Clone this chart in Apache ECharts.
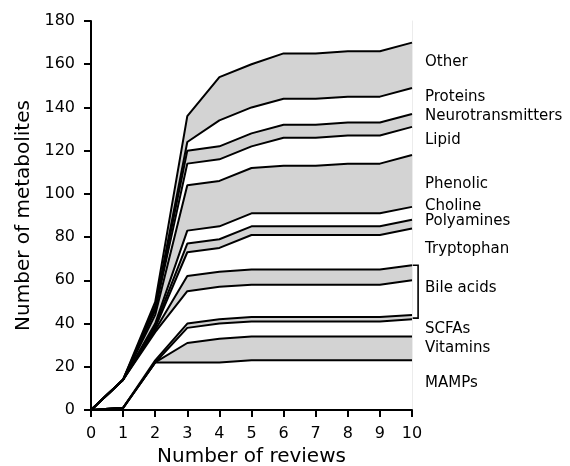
<!DOCTYPE html>
<html>
<head>
<meta charset="utf-8">
<script src="https://cdn.jsdelivr.net/npm/echarts@6/dist/echarts.min.js"></script>
<style>
  html, body { margin: 0; padding: 0; background: #fff; }
  #chart { width: 570px; height: 466px; }
</style>
</head>
<body>
<div id="chart"></div>
<script>
// reviews on the x axis
var reviews = ['0', '1', '2', '3', '4', '5', '6', '7', '8', '9', '10']

// metabolites added per category (stacked bottom -> top)
var mamps       = [0, 1, 22, 22, 22, 23, 23, 23, 23, 23, 23]
var vitamins    = [0, 0, 0, 9, 11, 11, 11, 11, 11, 11, 11]
var scfas       = [0, 0, 0, 7, 7, 7, 7, 7, 7, 7, 8]
var bileA       = [0, 0, 1, 2, 2, 2, 2, 2, 2, 2, 2]
var bileB       = [0, 13, 13, 15, 15, 15, 15, 15, 15, 15, 16]
var bileC       = [0, 0, 1, 7, 7, 7, 7, 7, 7, 7, 7]
var tryptophan  = [0, 0, 1, 11, 11, 16, 16, 16, 16, 16, 17]
var polyamines  = [0, 0, 1, 4, 4, 4, 4, 4, 4, 4, 4]
var choline     = [0, 0, 1, 6, 6, 6, 6, 6, 6, 6, 6]
var phenolic    = [0, 0, 4, 21, 21, 21, 22, 22, 23, 23, 24]
var lipid       = [0, 0, 2, 10, 10, 10, 13, 13, 13, 13, 13]
var neuro       = [0, 0, 1, 6, 6, 6, 6, 6, 6, 6, 6]
var proteins    = [0, 0, 1, 4, 12, 12, 12, 12, 12, 12, 12]
var other       = [0, 0, 2, 12, 20, 20, 21, 21, 21, 21, 21]

var bands = [mamps, vitamins, scfas, bileA, bileB, bileC, tryptophan,
  polyamines, choline, phenolic, lipid, neuro, proteins, other]

// labels on the right, with the y they sit at
var labelNames = ['Other', 'Proteins', 'Neurotransmitters', 'Lipid', 'Phenolic', 'Choline',
  'Polyamines', 'Tryptophan', 'Bile acids', 'SCFAs', 'Vitamins', 'MAMPs']
var labelY = [161, 145, 136, 125, 104.5, 94.5, 87.5, 74.5, 56.5, 37.5, 28.5, 12.5]

// bracket grouping the three bile acid bands
var bileLow = 42.5
var bileHigh = 67

var font = 'DejaVu Sans'

var series = bands.map(function (vals, i) {
  return {
    type: 'line',
    stack: 'all',
    z: 40 - i,
    symbol: 'none',
    data: vals,
    lineStyle: { color: '#000', width: 2 },
    areaStyle: i % 2 === 1 ? { color: '#d3d3d3', opacity: 1 } : null
  }
})

// labels, on a hidden value x axis over the same grid
series.push({
  type: 'custom',
  xAxisIndex: 1,
  z: 50,
  data: labelNames.map(function (n, i) { return [10, labelY[i], i] }),
  renderItem: function (params, api) {
    var p = api.coord([api.value(0), api.value(1)])
    return {
      type: 'text',
      x: p[0] + 13,
      y: p[1],
      style: {
        text: labelNames[api.value(2)],
        fill: '#000',
        font: '15px "DejaVu Sans"',
        verticalAlign: 'middle',
        align: 'left'
      }
    }
  }
})

// the bile acid bracket
series.push({
  type: 'custom',
  xAxisIndex: 1,
  z: 50,
  data: [[10.02, bileHigh, 10.19, bileLow]],
  renderItem: function (params, api) {
    var a = api.coord([api.value(0), api.value(1)])
    var b = api.coord([api.value(2), api.value(3)])
    return {
      type: 'polyline',
      shape: { points: [[a[0], a[1]], [b[0], a[1]], [b[0], b[1]], [a[0], b[1]]] },
      style: { stroke: '#000', lineWidth: 1.6, fill: null }
    }
  }
})

var chart = echarts.init(document.getElementById('chart'))
chart.setOption({
  animation: false,
  grid: { left: 91, right: 158, top: 21, bottom: 56, containLabel: false, outerBoundsMode: 'none' },
  xAxis: [{
    type: 'category',
    data: reviews,
    boundaryGap: false,
    name: 'Number of reviews',
    nameLocation: 'middle',
    nameGap: 37,
    nameTextStyle: { fontFamily: font, fontSize: 20, color: '#000', verticalAlign: 'top' },
    splitLine: { show: false },
    axisLine: { lineStyle: { color: '#000', width: 2 } },
    axisTick: { length: 7, lineStyle: { color: '#000', width: 2 } },
    axisLabel: { fontFamily: font, fontSize: 16, color: '#000', margin: 16, interval: 0 }
  }, {
    type: 'value',
    min: 0,
    max: 10,
    show: false
  }],
  yAxis: [{
    type: 'value',
    min: 0,
    max: 180,
    interval: 20,
    name: 'Number of metabolites',
    nameLocation: 'middle',
    nameGap: 54,
    nameTextStyle: { fontFamily: font, fontSize: 20, color: '#000' },
    splitLine: { show: false },
    axisLine: { show: true, lineStyle: { color: '#000', width: 2 } },
    axisTick: { show: true, length: 7, lineStyle: { color: '#000', width: 2 } },
    axisLabel: { fontFamily: font, fontSize: 16, color: '#000', margin: 16 }
  }, {
    type: 'value',
    position: 'right',
    min: 0,
    max: 180,
    splitLine: { show: false },
    axisLine: { show: true, lineStyle: { color: '#ececec', width: 1 } },
    axisTick: { show: false },
    axisLabel: { show: false }
  }],
  series: series
})
</script>
</body>
</html>
